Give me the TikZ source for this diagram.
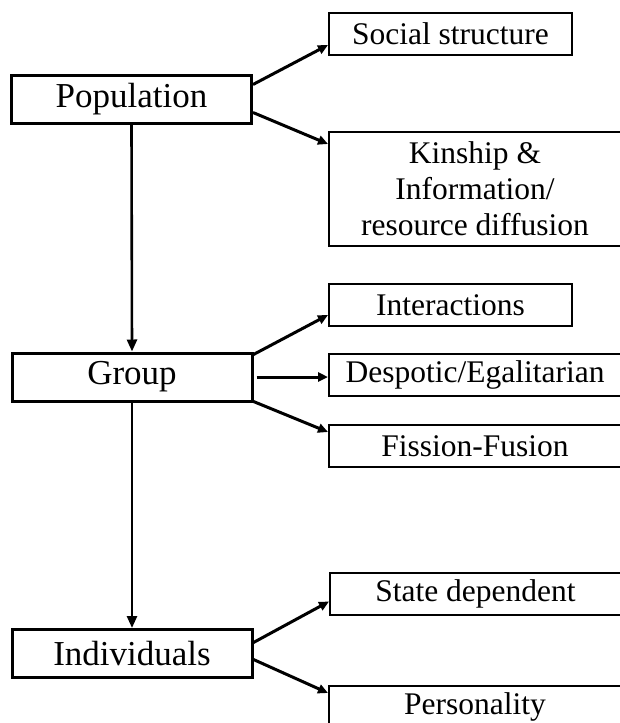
\documentclass[tikz,border=0pt]{standalone}
\usepackage{fontspec}
\setmainfont{Liberation Serif}
\usetikzlibrary{arrows.meta}
\begin{document}
\begin{tikzpicture}[x=1pt,y=-1pt,
  mainbox/.style={draw, line width=3pt, minimum width=240pt, minimum height=48pt, inner sep=0pt, font=\fontsize{35}{40}\selectfont},
  subbox/.style={draw, line width=2pt, minimum height=42pt, inner sep=0pt, font=\fontsize{31.5}{36}\selectfont, align=center},
  conn/.style={line width=3pt, -{Triangle[length=10pt,width=9pt]}},
  vconn/.style={line width=2.6pt, -{Triangle[length=12pt,width=10pt]}}]
\useasboundingbox (0,0) rectangle (619,723);
\node[mainbox] (pop) at (131.5,99) {Population};
\node[mainbox] (grp) at (132,377) {Group};
\node[mainbox] (ind) at (132,653.5) {Individuals};
\node[subbox, minimum width=243pt] (soc) at (450.5,34) {Social structure};
\node[subbox, minimum width=292pt, minimum height=114pt] (kin) at (475,189) {Kinship \&\\Information/\\resource diffusion};
\node[subbox, minimum width=243pt] (int) at (450.5,305) {Interactions};
\node[subbox, minimum width=292pt] (des) at (475,374.5) {Despotic/Egalitarian};
\node[subbox, minimum width=292pt] (fis) at (475,446) {Fission-Fusion};
\node[subbox, minimum width=291pt] (sta) at (475.5,593.5) {State dependent};
\node[subbox, minimum width=292pt] (per) at (475,707) {Personality};
\draw[conn] ([yshift=-11pt]pop.north east) -- ([yshift=-11pt]soc.west);
\draw[conn] ([yshift=12pt]pop.south east) -- ([yshift=-13pt]kin.north west);
\draw[vconn] (pop.south) -- (grp.north);
\draw[conn] ([yshift=-3pt]grp.north east) -- ([yshift=-10pt]int.west);
\draw[conn] ([xshift=3pt]grp.east) -- (grp.east -| des.west);
\draw[conn] ([yshift=1pt]grp.south east) -- ([yshift=-8pt]fis.north west);
\draw[vconn] (grp.south) -- (ind.north);
\draw[conn] ([yshift=11pt]ind.east) -- ([yshift=-8pt]sta.west);
\draw[conn] ([yshift=-6pt]ind.east) -- ([yshift=-8pt]per.north west);
\end{tikzpicture}
\end{document}
